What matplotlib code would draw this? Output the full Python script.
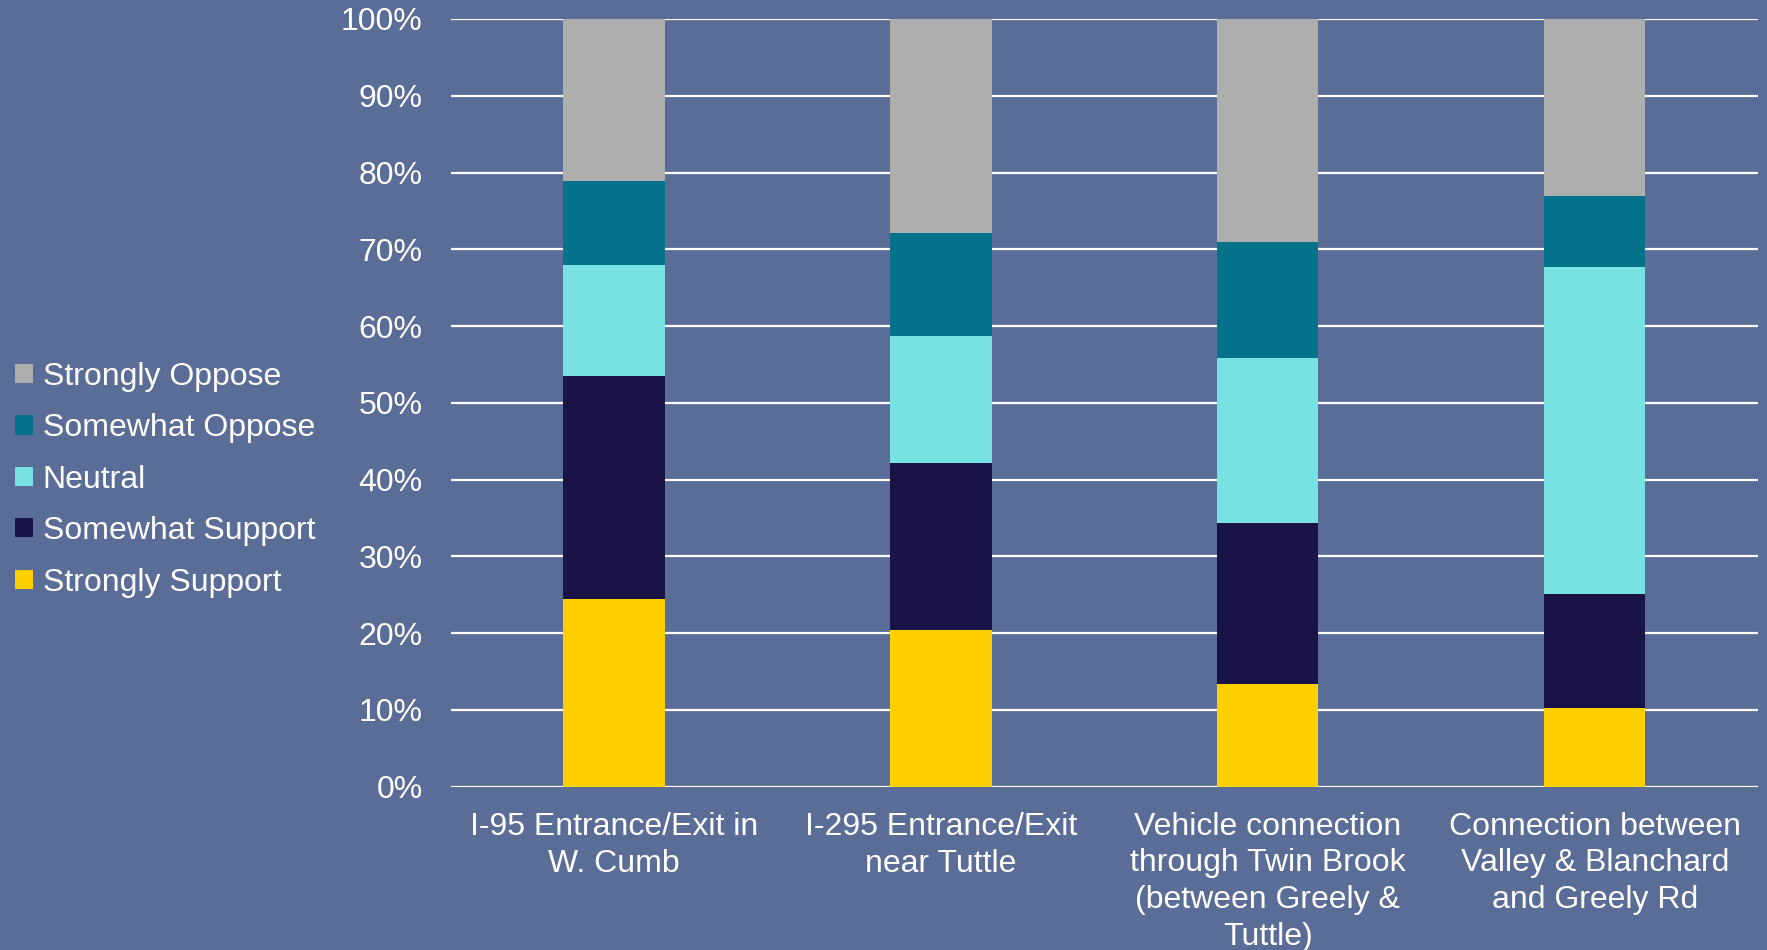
import matplotlib
matplotlib.use("Agg")
import matplotlib.pyplot as plt
import numpy as np

plt.rcParams['font.family'] = ['Liberation Sans', 'DejaVu Sans']

categories = [
    "I-95 Entrance/Exit in\nW. Cumb",
    "I-295 Entrance/Exit\nnear Tuttle",
    "Vehicle connection\nthrough Twin Brook\n(between Greely &\nTuttle)",
    "Connection between\nValley & Blanchard\nand Greely Rd",
]
series_names = ["Strongly Support", "Somewhat Support", "Neutral",
                "Somewhat Oppose", "Strongly Oppose"]
strongly_support = [24.4, 20.4, 13.4, 10.3]
somewhat_support = [29.1, 21.7, 21.0, 14.8]
neutral = [14.5, 16.6, 21.5, 42.6]
somewhat_oppose = [10.9, 13.4, 15.0, 9.2]
strongly_oppose = [21.1, 27.9, 29.1, 23.1]

colors = ["#FFD000", "#1A1446", "#78E1E1", "#05728C", "#AEAEAE"]
bg = "#5A6D96"

fig = plt.figure(figsize=(17.67, 9.5), dpi=100, facecolor=bg)
ax = fig.add_axes([0.255, 0.172, 0.740, 0.808])
ax.set_facecolor(bg)

x = np.arange(len(categories))
bottom = np.zeros(len(categories))
handles = []
for name, vals, c in zip(series_names,
                         [strongly_support, somewhat_support, neutral,
                          somewhat_oppose, strongly_oppose], colors):
    b = ax.bar(x, vals, 0.31, bottom=bottom, color=c, label=name, zorder=3,
               linewidth=0)
    handles.append(b)
    bottom += np.array(vals)

ax.set_xlim(-0.5, 3.5)
ax.set_ylim(0, 100)
ax.set_yticks(np.arange(0, 101, 10))
ax.set_yticklabels([f"{v}%" for v in range(0, 101, 10)])
ax.grid(axis='y', color='white', linewidth=1.6, zorder=0)
ax.set_axisbelow(True)
for s in ax.spines.values():
    s.set_visible(False)
ax.tick_params(axis='both', length=0, colors='white', labelsize=23)
ax.tick_params(axis='y', pad=20)
ax.tick_params(axis='x', pad=18)
ax.set_xticks(x)
ax.set_xticklabels(categories, linespacing=1.3)

leg = fig.legend(handles[::-1], series_names[::-1], loc='center left',
                 bbox_to_anchor=(-0.0075, 0.495), frameon=False, fontsize=23,
                 labelcolor='white', handlelength=0.55, handleheight=0.55,
                 handletextpad=0.3, labelspacing=0.67)

fig.savefig("out.png", dpi=100, facecolor=bg)
